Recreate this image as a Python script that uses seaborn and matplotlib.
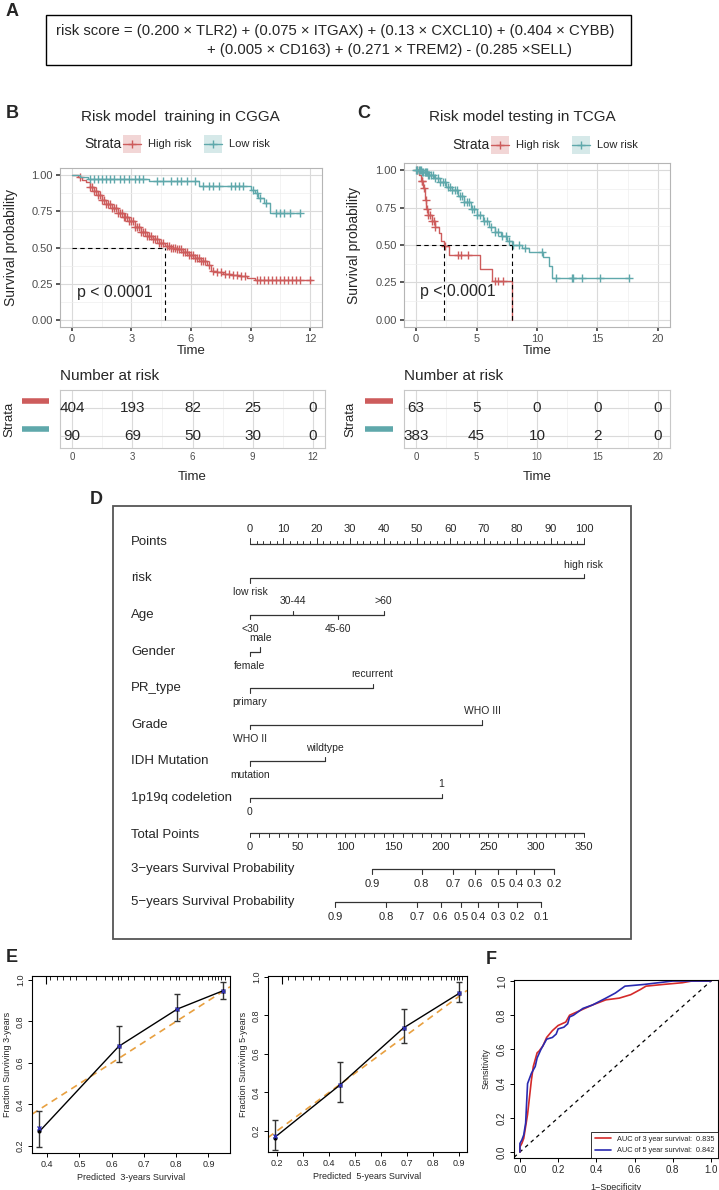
import numpy as np
import matplotlib
matplotlib.use("Agg")
import matplotlib.pyplot as plt
import seaborn as sns
from matplotlib.patches import Rectangle

# ---------------- data ----------------
formula_1 = "risk score = (0.200 × TLR2) + (0.075 × ITGAX) + (0.13 × CXCL10) + (0.404 × CYBB)"
formula_2 = "+ (0.005 × CD163) + (0.271 × TREM2) - (0.285 ×SELL)"

# CGGA training set, KM steps (years, survival)
cgga_high_t = [0, 0.3, 0.5, 0.7, 0.9, 1.1, 1.3, 1.5, 1.7, 2.0, 2.3, 2.6, 2.9, 3.2, 3.5, 3.8, 4.1,
               4.4, 4.7, 5.0, 5.3, 5.6, 5.9, 6.2, 6.5, 6.8, 7.0, 7.3, 7.6, 8.0, 8.4, 8.8, 9.2, 12.1]
cgga_high_s = [1.0, 0.99, 0.97, 0.95, 0.92, 0.89, 0.86, 0.83, 0.80, 0.77, 0.74, 0.71, 0.68, 0.64, 0.61,
               0.58, 0.56, 0.53, 0.51, 0.50, 0.49, 0.47, 0.45, 0.43, 0.41, 0.38, 0.34, 0.33, 0.32, 0.31,
               0.30, 0.29, 0.275, 0.275]
cgga_high_cens = [0.4, 0.9, 1.0, 1.1, 1.2, 1.3, 1.4, 1.5, 1.6, 1.7, 1.8, 1.9, 2.0, 2.1, 2.2, 2.3, 2.4,
                  2.5, 2.6, 2.7, 2.8, 2.9, 3.0, 3.1, 3.2, 3.3, 3.4, 3.5, 3.6, 3.7, 3.8, 3.9, 4.0, 4.1,
                  4.2, 4.3, 4.4, 4.5, 4.6, 4.8, 4.9, 5.0, 5.1, 5.2, 5.3, 5.4, 5.5, 5.6, 5.7, 5.8, 5.9,
                  6.0, 6.1, 6.2, 6.3, 6.4, 6.5, 6.6, 6.7, 6.9, 7.1, 7.3, 7.5, 7.7, 7.9, 8.1, 8.3, 8.5,
                  8.7, 9.3, 9.5, 9.7, 9.9, 10.1, 10.3, 10.5, 10.7, 10.9, 11.1, 11.3, 11.5, 12.0]
cgga_low_t = [0, 0.4, 0.8, 3.9, 6.4, 9.0, 9.2, 9.4, 9.7, 10.0, 11.5]
cgga_low_s = [1.0, 0.985, 0.975, 0.963, 0.925, 0.90, 0.875, 0.84, 0.81, 0.74, 0.74]
cgga_low_cens = [0.9, 1.1, 1.3, 1.5, 1.7, 1.9, 2.1, 2.4, 2.6, 2.9, 3.2, 3.4, 3.6, 4.3, 4.6, 5.0, 5.3,
                 5.5, 5.8, 6.2, 6.6, 6.9, 7.1, 7.4, 8.0, 8.2, 8.4, 8.6, 9.1, 9.3, 9.5, 9.8, 10.3, 10.5,
                 10.7, 11.0, 11.5]
cgga_medians = [4.7]

# TCGA testing set
tcga_high_t = [0, 0.25, 0.4, 0.55, 0.7, 0.85, 1.0, 1.3, 1.6, 1.9, 2.1, 2.3, 2.7, 5.3, 6.3, 7.9]
tcga_high_s = [1.0, 0.97, 0.93, 0.88, 0.80, 0.74, 0.70, 0.66, 0.62, 0.58, 0.53, 0.49, 0.43, 0.34,
               0.26, 0.0]
tcga_high_cens = [0.1, 0.45, 0.5, 0.65, 0.8, 0.9, 1.0, 1.15, 1.3, 1.45, 1.6, 2.4, 3.5, 3.7, 4.3,
                  6.5, 6.8, 7.2]
tcga_low_t = [0, 0.5, 1.0, 1.5, 2.0, 2.5, 3.0, 3.5, 4.0, 4.5, 5.0, 5.5, 6.0, 6.5, 7.0, 7.5, 7.9,
              8.8, 9.3, 10.5, 11.0, 11.2, 17.6]
tcga_low_s = [1.0, 0.99, 0.97, 0.95, 0.92, 0.89, 0.87, 0.83, 0.79, 0.74, 0.70, 0.66, 0.62, 0.59,
              0.56, 0.53, 0.50, 0.48, 0.45, 0.42, 0.36, 0.28, 0.28]
tcga_low_cens = [0.0, 0.1, 0.2, 0.3, 0.4, 0.5, 0.6, 0.7, 0.8, 0.9, 1.0, 1.1, 1.2, 1.4, 1.6, 1.8, 2.0,
                 2.2, 2.4, 2.6, 2.8, 3.0, 3.2, 3.4, 3.6, 3.8, 4.0, 4.2, 4.4, 4.6, 4.8, 5.0, 5.3, 5.6,
                 5.9, 6.2, 6.5, 6.8, 7.1, 7.4, 7.7, 8.0, 8.5, 9.0, 10.4, 11.6, 12.9, 13.0, 13.7, 15.2,
                 17.6]
tcga_medians = [2.3, 7.9]

# number at risk tables
cgga_risk_times = [0, 3, 6, 9, 12]
cgga_risk_high = [404, 193, 82, 25, 0]
cgga_risk_low = [90, 69, 50, 30, 0]
tcga_risk_times = [0, 5, 10, 15, 20]
tcga_risk_high = [63, 5, 0, 0, 0]
tcga_risk_low = [383, 45, 10, 2, 0]

# nomogram
nomo_vars = ["risk", "Age", "Gender", "PR_type", "Grade", "IDH Mutation", "1p19q codeletion"]
nomo_levels = [["low risk", "high risk"], ["<30", "30-44", "45-60", ">60"], ["female", "male"],
               ["primary", "recurrent"], ["WHO II", "WHO III"], ["mutation", "wildtype"], ["0", "1"]]
nomo_points = [[0, 100], [0, 13, 26.5, 40], [0, 3.1], [0, 36.7], [0, 69.5], [0, 22.5], [0, 57.4]]
surv3_probs = [0.9, 0.8, 0.7, 0.6, 0.5, 0.4, 0.3, 0.2]
surv3_total = [128, 180, 213, 236, 260, 279, 298, 319]
surv5_probs = [0.9, 0.8, 0.7, 0.6, 0.5, 0.4, 0.3, 0.2, 0.1]
surv5_total = [89, 143, 175, 200, 221, 239, 260, 280, 305]

# calibration curves
cal3_pred = [0.376, 0.622, 0.804, 0.944]
cal3_obs = [0.27, 0.68, 0.86, 0.947]
cal3_corr = [0.285, 0.68, 0.86, 0.945]
cal3_lo = [0.197, 0.603, 0.80, 0.91]
cal3_hi = [0.368, 0.778, 0.93, 0.99]
cal3_rug = [0.41, 0.43, 0.45, 0.47, 0.49, 0.52, 0.55, 0.58, 0.60, 0.62, 0.63, 0.65, 0.67, 0.70,
            0.72, 0.74, 0.76, 0.78, 0.80, 0.81, 0.83, 0.85, 0.87, 0.88, 0.90, 0.91, 0.92, 0.93, 0.94, 0.95]
cal3_rug_long = [0.395]

cal5_pred = [0.19, 0.443, 0.686, 0.90]
cal5_obs = [0.165, 0.44, 0.735, 0.915]
cal5_corr = [0.175, 0.44, 0.735, 0.915]
cal5_lo = [0.098, 0.35, 0.655, 0.87]
cal5_hi = [0.255, 0.56, 0.835, 0.975]
cal5_rug = [0.24, 0.27, 0.30, 0.33, 0.36, 0.40, 0.44, 0.47, 0.50, 0.53, 0.57, 0.60, 0.63, 0.66,
            0.68, 0.69, 0.70, 0.72, 0.75, 0.78, 0.80, 0.83, 0.85, 0.87, 0.88, 0.89, 0.90, 0.91]
cal5_rug_long = [0.22]

# ROC
roc3_fpr = [0, 0.0, 0.01, 0.02, 0.03, 0.04, 0.05, 0.06, 0.07, 0.09, 0.10, 0.12, 0.14, 0.17, 0.20,
            0.24, 0.26, 0.32, 0.38, 0.45, 0.52, 0.58, 0.63, 0.66, 0.75, 0.85, 0.90, 1.0]
roc3_tpr = [0, 0.03, 0.05, 0.08, 0.15, 0.22, 0.32, 0.42, 0.50, 0.58, 0.59, 0.62, 0.67, 0.71, 0.74,
            0.76, 0.80, 0.83, 0.86, 0.89, 0.90, 0.92, 0.95, 0.97, 0.98, 0.99, 1.0, 1.0]
roc5_fpr = [0, 0.0, 0.01, 0.02, 0.03, 0.04, 0.06, 0.08, 0.09, 0.11, 0.13, 0.14, 0.17, 0.19, 0.20,
            0.23, 0.25, 0.26, 0.28, 0.33, 0.38, 0.45, 0.50, 0.55, 0.65, 0.80, 1.0]
roc5_tpr = [0, 0.05, 0.07, 0.10, 0.17, 0.40, 0.46, 0.50, 0.55, 0.60, 0.64, 0.66, 0.67, 0.69, 0.72,
            0.73, 0.75, 0.79, 0.80, 0.84, 0.86, 0.90, 0.93, 0.97, 0.98, 1.0, 1.0]
auc_labels = ["AUC of 3 year survival:  0.835", "AUC of 5 year survival:  0.842"]

# ---------------- style ----------------
sns.set_theme(style="white")
plt.rcParams["font.family"] = ["Liberation Sans", "DejaVu Sans"]

RED = "#CD5C5C"
TEAL = "#5FA8AB"
W, H = 719, 1190

fig = plt.figure(figsize=(W / 100, H / 100), dpi=100)

# overlay in pixel coords for panel letters, boxes, legends
ov = fig.add_axes([0, 0, 1, 1])
ov.set_xlim(0, W)
ov.set_ylim(H, 0)
ov.axis("off")


def add_ax(x0, y0, x1, y1):
    return fig.add_axes([x0 / W, 1 - y1 / H, (x1 - x0) / W, (y1 - y0) / H])


for lab, (lx, ly) in zip("ABCDEF", [(6, 12), (6, 113), (357, 113), (90, 500), (6, 958), (486, 960)]):
    ov.text(lx, ly, lab, fontsize=13, fontweight="bold", va="center", ha="left")

# ---- A: formula ----
ov.add_patch(Rectangle((46, 15), 585, 50, fill=False, lw=1.0, ec="black"))
ov.text(56, 31, formula_1, fontsize=10.7, va="center", ha="left")
ov.text(207, 50, formula_2, fontsize=10.7, va="center", ha="left")


# ---- B / C: Kaplan-Meier ----
def km_panel(box, curves, xmax, step, medians, p_xy, title, title_x, leg_x, leg_y, ylab_x):
    ax = add_ax(*box)
    for t, s, cens, col in curves:
        sns.lineplot(x=t, y=s, drawstyle="steps-post", estimator=None, sort=False,
                     color=col, linewidth=1.0, ax=ax)
        cy = np.asarray(s)[np.searchsorted(t, cens, side="right") - 1]
        ax.plot(cens, cy, ls="none", marker="+", ms=6, mew=1.0, color=col)
    for m in medians:
        ax.plot([m, m], [0, 0.5], ls=(0, (4, 3)), color="black", lw=0.8)
    ax.plot([0, max(medians)], [0.5, 0.5], ls=(0, (4, 3)), color="black", lw=0.8)
    ax.text(p_xy[0], p_xy[1], "p < 0.0001", fontsize=11.4, va="center", ha="left")
    ax.set_xlim(-0.05 * xmax, 1.05 * xmax)
    ax.set_ylim(-0.05, 1.05)
    ax.set_xticks(np.arange(0, xmax + 0.01, step))
    ax.set_xticks(np.arange(step / 2, xmax, step), minor=True)
    ax.set_yticks([0, 0.25, 0.5, 0.75, 1.0])
    ax.set_yticklabels(["0.00", "0.25", "0.50", "0.75", "1.00"])
    ax.set_yticks([0.125, 0.375, 0.625, 0.875], minor=True)
    ax.grid(which="major", color="#DADADA", lw=0.8)
    ax.grid(which="minor", color="#EEEEEE", lw=0.5)
    ax.set_axisbelow(True)
    for sp in ax.spines.values():
        sp.set_color("#B5B5B5")
        sp.set_linewidth(0.8)
    ax.tick_params(which="major", length=3, color="#444444", labelsize=8, labelcolor="#4D4D4D",
                   bottom=True, left=True, pad=2)
    ax.tick_params(which="minor", length=0)
    ax.set_xlabel("Time", fontsize=9.5, labelpad=1)
    ax.set_ylabel("Survival probability", fontsize=10)
    ax.yaxis.set_label_coords(ylab_x, 0.5)
    ov.text(title_x, 117, title, fontsize=11, ha="center", va="center")
    # legend row
    ov.text(leg_x, leg_y, "Strata", fontsize=10, va="center", ha="left")
    items = [("High risk", RED), ("Low risk", TEAL)]
    kx = leg_x + 39
    for name, col in items:
        ov.add_patch(Rectangle((kx, leg_y - 9), 18, 18, fc=col, alpha=0.25, ec="none"))
        ov.plot([kx, kx + 18], [leg_y, leg_y], color=col, lw=1.0)
        ov.plot([kx + 9], [leg_y], marker="+", ms=6, mew=1.0, color=col)
        ov.text(kx + 25, leg_y, name, fontsize=8, va="center", ha="left")
        kx += 81
    return ax


km_panel((60, 168, 322, 327),
         [(cgga_high_t, cgga_high_s, cgga_high_cens, RED), (cgga_low_t, cgga_low_s, cgga_low_cens, TEAL)],
         12, 3, cgga_medians, (0.25, 0.19), "Risk model  training in CGGA", 180, 84, 144, -0.16)
km_panel((404, 163, 670, 327),
         [(tcga_high_t, tcga_high_s, tcga_high_cens, RED), (tcga_low_t, tcga_low_s, tcga_low_cens, TEAL)],
         20, 5, tcga_medians, (0.3, 0.19), "Risk model testing in TCGA", 522, 452, 145, -0.162)


def risk_table(box, times, high, low, xmax, step, strata_x):
    ax = add_ax(*box)
    for row, vals in enumerate([high, low]):
        for t, v in zip(times, vals):
            ax.text(t, row, str(v), fontsize=11, ha="center", va="center")
    ax.set_xlim(-0.05 * xmax, 1.05 * xmax)
    ax.set_ylim(1.43, -0.64)
    ax.set_xticks(times)
    ax.set_xticks(np.arange(step / 2, xmax, step), minor=True)
    ax.set_yticks([0, 1])
    ax.set_yticklabels([])
    ax.grid(which="major", color="#DADADA", lw=0.8)
    ax.grid(which="minor", axis="x", color="#EEEEEE", lw=0.5)
    ax.set_axisbelow(True)
    for sp in ax.spines.values():
        sp.set_color("#C8C8C8")
        sp.set_linewidth(0.8)
    ax.tick_params(axis="x", length=0, labelsize=7, labelcolor="#4D4D4D", pad=3)
    ax.tick_params(axis="y", length=0)
    for row, col in enumerate([RED, TEAL]):
        ax.plot([-0.145, -0.04], [row - 0.25, row - 0.25], transform=ax.get_yaxis_transform(),
                clip_on=False, color=col, lw=4, solid_capstyle="butt")
    ax.set_ylabel("Strata", fontsize=9.5)
    ax.yaxis.set_label_coords(strata_x, 0.5)
    ax.set_xlabel("Time", fontsize=9.5, labelpad=6)
    ov.text(box[0], 376, "Number at risk", fontsize=11, va="center", ha="left")
    return ax


risk_table((60, 390, 325, 448), cgga_risk_times, cgga_risk_high, cgga_risk_low, 12, 3, -0.17)
risk_table((404, 390, 670, 448), tcga_risk_times, tcga_risk_high, tcga_risk_low, 20, 5, -0.18)

# ---- D: nomogram ----
ov.add_patch(Rectangle((113, 506), 518, 433, fill=False, lw=1.3, ec="#555555"))
nomo = add_ax(113, 506, 631, 939)
nomo.set_xlim(-41.0, 114.1)
nomo.set_ylim(10.85, -0.98)
nomo.axis("off")
lab_x = -35.6
row_fs = 9.5
val_fs = 7.5
lc = "#333333"

# Points scale
nomo.text(lab_x, 0, "Points", fontsize=row_fs, va="center")
nomo.plot([0, 100], [0.05, 0.05], color=lc, lw=0.9)
for p in range(0, 101, 2):
    big = p % 10 == 0
    nomo.plot([p, p], [0.05, 0.05 - (0.15 if big else 0.07)], color=lc, lw=0.7)
    if big:
        nomo.text(p, -0.36, str(p), fontsize=8, ha="center", va="center")

for i, (name, levels, pts) in enumerate(zip(nomo_vars, nomo_levels, nomo_points), start=1):
    nomo.text(lab_x, i, name, fontsize=row_fs, va="center")
    nomo.plot([min(pts), max(pts)], [i, i], color=lc, lw=0.9)
    for j, (lv, p) in enumerate(zip(levels, pts)):
        d = 1 if j % 2 == 0 else -1
        nomo.plot([p, p], [i, i + 0.12 * d], color=lc, lw=0.8)
        nomo.text(p, i + 0.38 * d, lv, fontsize=val_fs, ha="center", va="center")

# Total points
tot_row = len(nomo_vars) + 1
nomo.text(lab_x, tot_row, "Total Points", fontsize=row_fs, va="center")
nomo.plot([0, 100], [tot_row - 0.05, tot_row - 0.05], color=lc, lw=0.9)
for tp in range(0, 351, 10):
    x = tp * 100 / 350
    nomo.plot([x, x], [tot_row - 0.05, tot_row + 0.07], color=lc, lw=0.7)
    if tp % 50 == 0:
        nomo.text(x, tot_row + 0.33, str(tp), fontsize=8, ha="center", va="center")

for r, (lab, probs, tots) in enumerate([("3\u2212years Survival Probability", surv3_probs, surv3_total),
                                        ("5\u2212years Survival Probability", surv5_probs, surv5_total)],
                                       start=tot_row + 1):
    yy = r - 0.05 if r == tot_row + 1 else r - 0.15
    nomo.text(lab_x, yy, lab, fontsize=row_fs, va="center")
    xs = [t * 100 / 350 for t in tots]
    nomo.plot([min(xs), max(xs)], [yy, yy], color=lc, lw=0.9)
    for x, pr in zip(xs, probs):
        nomo.plot([x, x], [yy, yy + 0.12], color=lc, lw=0.8)
        nomo.text(x, yy + 0.4, f"{pr:.1f}", fontsize=8, ha="center", va="center")


# ---- E: calibration ----
def cal_panel(box, pred, obs, corr, lo, hi, rug, rug_long, xlim, ylim, xt, yrs):
    ax = add_ax(*box)
    ax.axline((0, 0), (1, 1), color="#E8A040", lw=1.2, ls=(0, (4, 3)))
    ax.errorbar(pred, obs, yerr=[np.array(obs) - np.array(lo), np.array(hi) - np.array(obs)],
                fmt="none", ecolor="#333333", elinewidth=1.0, capsize=2.5, capthick=1.0)
    sns.lineplot(x=pred, y=obs, color="black", linewidth=1.0, estimator=None, sort=False, ax=ax,
                 marker="o", markersize=3, markeredgewidth=0)
    ax.plot(pred, corr, ls="none", marker="x", ms=3.5, mew=1.0, color="#3030B0")
    ax.vlines(rug, 0.975, 1.0, transform=ax.get_xaxis_transform(), color="black", lw=0.6)
    ax.vlines(rug_long, 0.955, 1.0, transform=ax.get_xaxis_transform(), color="black", lw=0.8)
    ax.set_xlim(*xlim)
    ax.set_ylim(*ylim)
    ax.set_xticks(xt)
    ax.set_yticks([0.2, 0.4, 0.6, 0.8, 1.0])
    ax.set_yticklabels(["0.2", "0.4", "0.6", "0.8", "1.0"], rotation=90, va="center")
    ax.tick_params(length=3, width=0.7, labelsize=6.5, pad=2, bottom=True, left=True, color="black")
    for sp in ax.spines.values():
        sp.set_color("black")
        sp.set_linewidth(0.8)
    ax.set_xlabel(f"Predicted  {yrs}-years Survival", fontsize=6.5, labelpad=3)
    ax.set_ylabel(f"Fraction Surviving {yrs}-years", fontsize=6.5, labelpad=3)
    return ax


cal_panel((32, 976, 230, 1153), cal3_pred, cal3_obs, cal3_corr, cal3_lo, cal3_hi, cal3_rug,
          cal3_rug_long, (0.353, 0.967), (0.166, 1.019), [0.4, 0.5, 0.6, 0.7, 0.8, 0.9], 3)
cal_panel((268, 976, 467, 1152), cal5_pred, cal5_obs, cal5_corr, cal5_lo, cal5_hi, cal5_rug,
          cal5_rug_long, (0.165, 0.93), (0.09, 1.005), [0.2, 0.3, 0.4, 0.5, 0.6, 0.7, 0.8, 0.9], 5)

# ---- F: ROC ----
axf = add_ax(514, 980, 718, 1158)
axf.axline((0, 0), (1, 1), color="black", lw=0.9, ls=(0, (3, 3)))
sns.lineplot(x=roc3_fpr, y=roc3_tpr, color="#D42A2A", linewidth=1.2, estimator=None, sort=False,
             ax=axf, label=auc_labels[0])
sns.lineplot(x=roc5_fpr, y=roc5_tpr, color="#2A2AB0", linewidth=1.2, estimator=None, sort=False,
             ax=axf, label=auc_labels[1])
axf.set_xlim(-0.031, 1.037)
axf.set_ylim(-0.035, 1.006)
axf.set_xticks([0, 0.2, 0.4, 0.6, 0.8, 1.0])
axf.set_yticks([0, 0.2, 0.4, 0.6, 0.8, 1.0])
axf.set_yticklabels(["0.0", "0.2", "0.4", "0.6", "0.8", "1.0"], rotation=90, va="center")
axf.tick_params(length=3, width=0.7, labelsize=7, pad=2, bottom=True, left=True, color="black")
for sp in axf.spines.values():
    sp.set_color("black")
    sp.set_linewidth(0.8)
axf.set_xlabel("1\u2212Specificity", fontsize=6.5, labelpad=6)
axf.set_ylabel("Sensitivity", fontsize=6.5, labelpad=5)
leg = axf.legend(loc="lower right", fontsize=5.3, frameon=True, fancybox=False, edgecolor="black",
                 borderaxespad=0.0, handlelength=2.2, borderpad=0.5, labelspacing=0.6)
leg.get_frame().set_linewidth(0.7)

fig.savefig("out.png", dpi=100)
